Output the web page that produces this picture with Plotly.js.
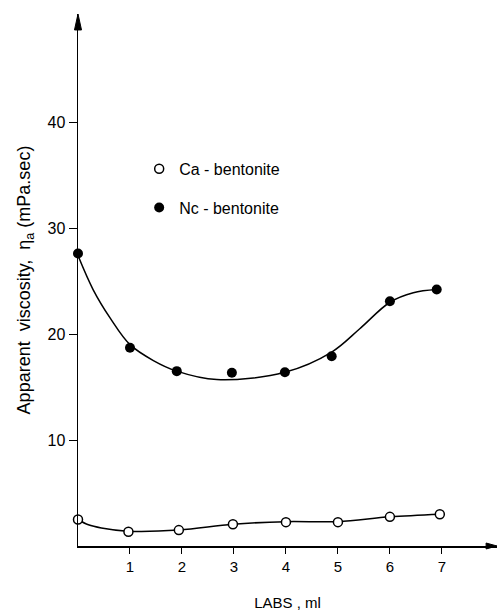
<!DOCTYPE html>
<html>
<head>
<meta charset="utf-8">
<script src="https://cdn.plot.ly/plotly-3.0.1.min.js"></script>
<style>html,body{margin:0;padding:0;background:#fff;}</style>
</head>
<body>
<div id="chart" style="width:500px;height:612px;"></div>
<script>
// Measured points
var caX = [0, 0.97, 1.94, 2.98, 4.0, 5.0, 6.0, 6.96];
var caY = [2.5, 1.35, 1.5, 2.05, 2.25, 2.25, 2.75, 3.0];
var naX = [0, 1.0, 1.9, 2.96, 3.98, 4.88, 6.0, 6.9];
var naY = [27.6, 18.7, 16.5, 16.35, 16.4, 17.9, 23.1, 24.2];

// Hand-drawn fitted curves
var caCurveX = [0, 0.2, 0.45, 0.95, 1.94, 2.98, 4.0, 5.0, 6.0, 6.96];
var caCurveY = [2.5, 2.0, 1.7, 1.4, 1.5, 2.05, 2.3, 2.3, 2.75, 3.0];
var naCurveX = [0, 0.29, 0.62, 1.0, 1.45, 1.9, 2.67, 3.98, 4.88, 5.42, 6.0, 6.45, 6.9];
var naCurveY = [27.4, 24.2, 21.5, 19.0, 17.5, 16.5, 15.7, 16.4, 18.3, 20.5, 23.0, 23.9, 24.2];

var yTicks = [10, 20, 30, 40];
var xTicks = [1, 2, 3, 4, 5, 6, 7];

var FONT = 'Liberation Sans, Arial, sans-serif';

var traces = [
  {x: naCurveX, y: naCurveY, mode: 'lines', line: {color: '#000', width: 1.5, shape: 'spline', smoothing: 1}, showlegend: false, hoverinfo: 'skip'},
  {x: caCurveX, y: caCurveY, mode: 'lines', line: {color: '#000', width: 1.5, shape: 'spline', smoothing: 1}, showlegend: false, hoverinfo: 'skip'},
  {x: caX, y: caY, mode: 'markers', name: 'Ca - bentonite', legendgroup: 'ca',
   marker: {symbol: 'circle', size: 9, color: '#fff', line: {color: '#000', width: 1.5}}, cliponaxis: false},
  {x: naX, y: naY, mode: 'markers', name: 'Nc - bentonite', legendgroup: 'na',
   marker: {symbol: 'circle', size: 10, color: '#000', line: {color: '#000', width: 0}}, cliponaxis: false}
];

var layout = {
  width: 500, height: 612,
  margin: {l: 78, r: 3, t: 14, b: 66},
  paper_bgcolor: '#fff', plot_bgcolor: '#fff',
  font: {family: FONT, color: '#000', size: 15},
  showlegend: true,
  legend: {x: 0.146, y: 0.741, xanchor: 'left', yanchor: 'top', bgcolor: 'rgba(0,0,0,0)',
    font: {family: FONT, size: 16, color: '#000'}, tracegroupgap: 15, itemwidth: 30},
  xaxis: {
    range: [0, 8.06], showgrid: false, zeroline: false,
    showline: true, linecolor: '#000', linewidth: 1.5,
    tickmode: 'array', tickvals: xTicks, ticktext: xTicks.map(String),
    ticks: 'outside', ticklen: 6, tickwidth: 1, tickcolor: '#000',
    tickfont: {size: 15, family: FONT},
    title: {text: 'LABS , ml', font: {size: 15, family: FONT}, standoff: 24}
  },
  yaxis: {
    range: [0, 50.2], showgrid: false, zeroline: false,
    showline: true, linecolor: '#000', linewidth: 1.5,
    tickmode: 'array', tickvals: yTicks, ticktext: yTicks.map(String),
    ticks: 'outside', ticklen: 8, tickwidth: 1, tickcolor: '#000',
    tickfont: {size: 16, family: FONT},
    title: {text: 'Apparent  viscosity,  \u03b7<sub>a</sub> (mPa.sec)', font: {size: 18, family: FONT}, standoff: 12}
  },
  shapes: [
    {type: 'path', xref: 'paper', yref: 'paper',
     path: 'M -0.0084,0.97 L 0,1 L 0.0084,0.97 Z', fillcolor: '#000', line: {color: '#000', width: 1}},
    {type: 'path', xref: 'paper', yref: 'paper',
     path: 'M 0.974,0.0056 L 1,0 L 0.974,-0.0056 Z', fillcolor: '#000', line: {color: '#000', width: 1}}
  ]
};

Plotly.newPlot('chart', traces, layout, {displayModeBar: false, staticPlot: true});
</script>
</body>
</html>
